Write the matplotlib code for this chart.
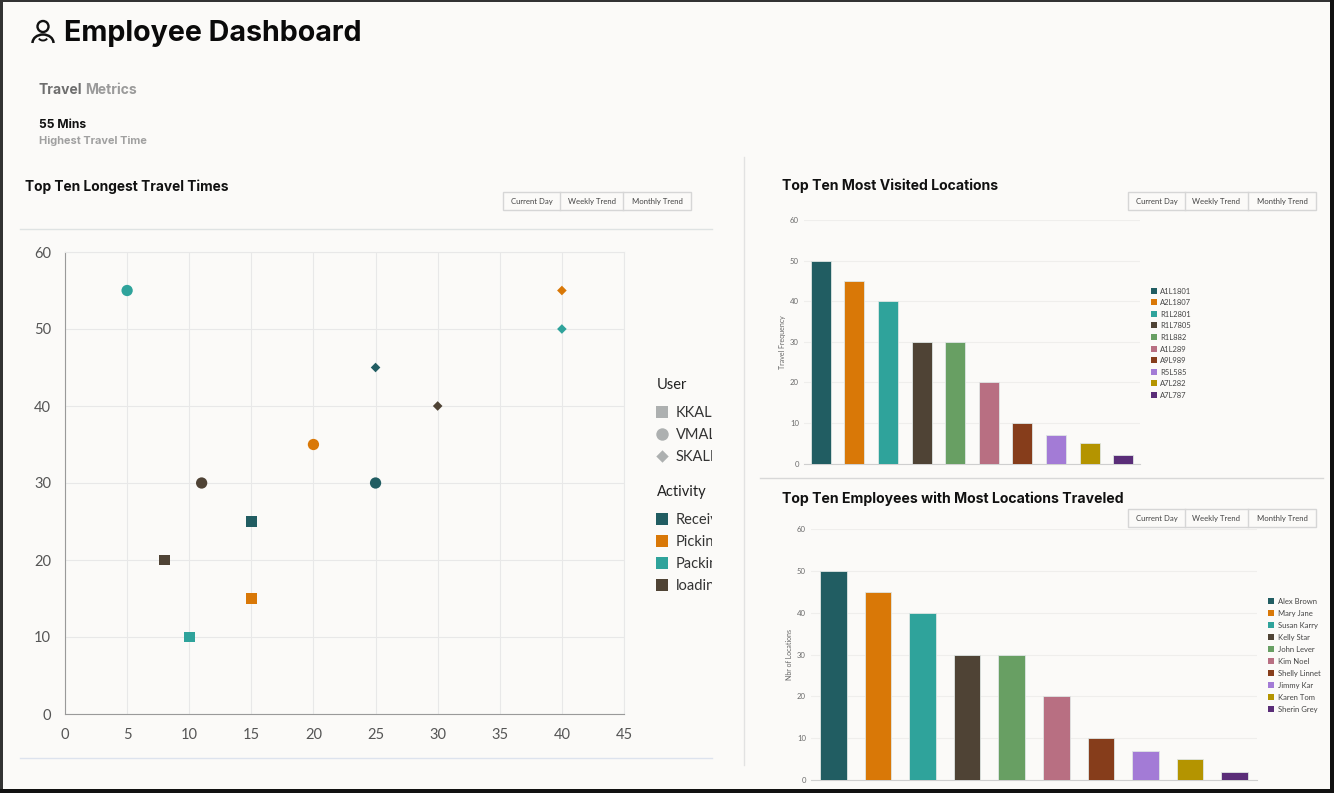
import matplotlib
matplotlib.use("Agg")
import matplotlib.pyplot as plt
from matplotlib.patches import Rectangle, Circle, Arc
from matplotlib.transforms import Bbox

W, H = 1334, 793
BG = "#fbfaf8"
COLORS = ["#215d62", "#d97807", "#2fa39b", "#4f4335", "#689f63",
          "#b86f82", "#863d1b", "#a37bd6", "#b49400", "#5a2d78"]

# scatter data, one list per user, ordered by activity
activities = ["Receiving", "Picking", "Packing", "loading"]
users = ["KKAL", "VMAL", "SKALI"]
kkal_x = [15, 15, 10, 8]
kkal_y = [25, 15, 10, 20]
vmal_x = [25, 20, 5, 11]
vmal_y = [30, 35, 55, 30]
skali_x = [25, 40, 40, 30]
skali_y = [45, 55, 50, 40]

# bar data
locations = ["A1L1801", "A2L1807", "R1L2801", "R1L7805", "R1L882",
             "A1L289", "A9L989", "R5L585", "A7L282", "A7L787"]
location_visits = [50, 45, 40, 30, 30, 20, 10, 7, 5, 2]
employees = ["Alex Brown", "Mary Jane", "Susan Karry", "Kelly Star", "John Lever",
             "Kim Noel", "Shelly Linnet", "Jimmy Kar", "Karen Tom", "Sherin Grey"]
employee_locations = [50, 45, 40, 30, 30, 20, 10, 7, 5, 2]


def px_axes(fig, left, top, right, bottom):
    # axes placed by pixel edges of the image
    return fig.add_axes([left / W, 1 - bottom / H, (right - left) / W, (bottom - top) / H])


def bar_panel(fig, box, values, ylabel, tick_pad, label_pad):
    ax = px_axes(fig, *box)
    ax.set_facecolor("none")
    ax.bar(range(len(values)), values, width=0.6, color=COLORS, edgecolor="#dfe6e4", linewidth=0.6, zorder=3)
    ax.set_xlim(-0.5, len(values) - 0.5)
    ax.set_ylim(0, 60)
    ax.set_yticks(range(0, 61, 10))
    ax.set_xticks([])
    ax.grid(axis="y", color="#efeeec", linewidth=0.8)
    ax.set_axisbelow(True)
    for side in ["top", "right", "left"]:
        ax.spines[side].set_visible(False)
    ax.spines["bottom"].set_color("#cfcfcf")
    ax.tick_params(axis="y", length=0, pad=tick_pad, labelsize=5.6, labelcolor="#6b6b6b")
    ax.set_ylabel(ylabel, fontsize=5, color="#666666", labelpad=label_pad)
    return ax


plt.rcParams["font.family"] = ["Lato", "DejaVu Sans"]
fig = plt.figure(figsize=(W / 100, H / 100), dpi=100, facecolor=BG)

# overlay in image pixels for the dashboard chrome
page = fig.add_axes([0, 0, 1, 1], zorder=0)
page.set_xlim(0, W)
page.set_ylim(H, 0)
page.axis("off")

# scatter
ax = px_axes(fig, 65, 252, 624, 714)
ax.set_facecolor("none")
for xs, ys, marker, size in [(kkal_x, kkal_y, "s", 62), (vmal_x, vmal_y, "o", 66), (skali_x, skali_y, "D", 24)]:
    ax.scatter(xs, ys, c=COLORS[:4], marker=marker, s=size, zorder=3, linewidths=0)
ax.set_xlim(0, 45)
ax.set_ylim(0, 60)
ax.set_xticks(range(0, 46, 5))
ax.set_yticks(range(0, 61, 10))
ax.grid(color="#e8e8e8", linewidth=0.8)
ax.set_axisbelow(True)
for side in ["top", "right"]:
    ax.spines[side].set_color("#e8e8e8")
for side in ["left", "bottom"]:
    ax.spines[side].set_color("#9a9a9a")
ax.tick_params(length=0, labelsize=10.5, labelcolor="#555555", pad=10)

bar_panel(fig, (804, 220, 1140, 463.5), location_visits, "Travel Frequency", 3.6, 2.8)
bar_panel(fig, (811, 529, 1257, 780), employee_locations, "Nbr of Locations", 3.6, 2.9)

# header
page.text(64, 33.5, "Employee Dashboard", family="Inter", weight="bold", fontsize=20.6, color="#0a0a0a", va="center")
page.add_patch(Circle((43, 26.5), 5.5, fill=False, ec="#111111", lw=1.7))
page.add_patch(Arc((43, 43), 21, 17, theta1=180, theta2=360, ec="#111111", lw=1.8))
page.add_patch(Arc((43, 37), 9, 7, theta1=20, theta2=160, ec="#111111", lw=1.4))
page.text(38.5, 90.5, "Travel", family="Inter", weight="bold", fontsize=10, color="#6e6e6e", va="center")
page.text(85, 90.5, "Metrics", family="Inter", weight="bold", fontsize=10, color="#9a9a9a", va="center")
page.text(39, 125, "55 Mins", family="Inter", weight="bold", fontsize=8.7, color="#111111", va="center")
page.text(39, 140.5, "Highest Travel Time", family="Inter", weight="bold", fontsize=7.9, color="#a0a0a0", va="center")
for x, y, size, label in [(25, 186.5, 9.9, "Top Ten Longest Travel Times"),
                          (782, 186, 10.1, "Top Ten Most Visited Locations"),
                          (782, 498.5, 10.15, "Top Ten Employees with Most Locations Traveled")]:
    page.text(x, y, label, family="Inter", weight="bold", fontsize=size, color="#111111", va="center")

# separators
page.plot([20, 712], [229, 229], color="#dfe3e3", lw=1)
page.plot([20, 712], [758, 758], color="#dde3ee", lw=1)
page.plot([744, 744], [157, 765], color="#e2e2e2", lw=1)
page.plot([760, 1323], [478, 478], color="#d8d8d8", lw=1)

# trend buttons
for x0, y0 in [(503, 192), (1128, 192), (1128, 509)]:
    page.add_patch(Rectangle((x0, y0), 188, 18, fc="none", ec="#d6d6d6", lw=1))
    page.plot([x0 + 57, x0 + 57], [y0, y0 + 18], color="#d6d6d6", lw=1)
    page.plot([x0 + 120, x0 + 120], [y0, y0 + 18], color="#d6d6d6", lw=1)
    for dx, label in [(28.5, "Current Day"), (88.5, "Weekly Trend"), (154, "Monthly Trend")]:
        page.text(x0 + dx, y0 + 9.5, label, fontsize=5.6, color="#444444", ha="center", va="center")

# scatter legend, cut off at the panel edge as in the dashboard
clip = Bbox.from_extents(0, 0, 712, H)
page.text(657, 385, "User", fontsize=10.5, color="#222222", va="center")
page.text(657, 492, "Activity", fontsize=10.5, color="#222222", va="center")
for i, (label, marker) in enumerate(zip(users, ["s", "o", "D"])):
    y = 412 + i * 22
    page.scatter([662], [y], marker=marker, s=80 if marker != "D" else 40, c="#adb0b0", linewidths=0)
    t = page.text(676, y + 1, label, fontsize=10.5, color="#333333", va="center")
    t.set_clip_box(clip)
    t.set_clip_on(True)
for i, label in enumerate(activities):
    y = 519 + i * 22
    page.add_patch(Rectangle((656, y - 6), 12, 12, fc=COLORS[i], ec="none"))
    t = page.text(676, y + 1, label, fontsize=10.5, color="#333333", va="center")
    t.set_clip_box(clip)
    t.set_clip_on(True)

# bar legends
for i, label in enumerate(locations):
    y = 290.5 + i * 11.6
    page.add_patch(Rectangle((1151, y - 3), 6, 6, fc=COLORS[i], ec="none"))
    page.text(1160, y + 0.7, label, fontsize=5.5, color="#444444", va="center")
for i, label in enumerate(employees):
    y = 601 + i * 12
    page.add_patch(Rectangle((1268, y - 3), 6, 6, fc=COLORS[i], ec="none"))
    page.text(1278, y + 0.7, label, fontsize=5.5, color="#444444", va="center")

# screenshot border
page.add_patch(Rectangle((0, 0), 3, H, fc="#333333", ec="none"))
page.add_patch(Rectangle((0, 0), W, 1.5, fc="#333333", ec="none"))
page.add_patch(Rectangle((1330, 0), 4, H, fc="#111111", ec="none"))
page.add_patch(Rectangle((0, 789), W, 4, fc="#111111", ec="none"))

fig.savefig("out.png", dpi=100, facecolor=BG)
